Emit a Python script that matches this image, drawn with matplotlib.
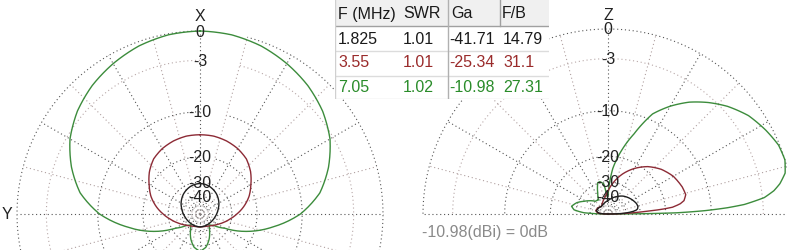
import numpy as np
import matplotlib
matplotlib.use('Agg')
import matplotlib.pyplot as plt
from matplotlib.patches import Rectangle

plt.rcParams['font.family'] = ['Liberation Sans', 'DejaVu Sans']

# --- table values ---
freqs = ['1.825', '3.55', '7.05']
swr = ['1.01', '1.01', '1.02']
ga = ['-41.71', '-25.34', '-10.98']
fb = ['14.79', '31.1', '27.31']
headers = ['F (MHz)', 'SWR', 'Ga', 'F/B']

# --- azimuth pattern (dB rel. max), 0..180 deg, symmetric about X ---
az_deg = [0, 10, 20, 30, 40, 50, 60, 70, 80, 90, 100, 110, 120, 130, 140, 150, 160, 170, 180]
az_black = [-30.73, -31.0, -31.6, -32.5, -33.6, -35.0, -36.5, -38.2, -39.8, -41.2,
            -42.5, -43.5, -44.3, -44.9, -45.3, -45.5, -45.6, -45.6, -45.5]
az_red = [-14.36, -14.4, -14.7, -15.2, -16.0, -17.5, -19.5, -21.5, -24.2, -27.5,
          -31.0, -34.3, -37.5, -40.2, -42.5, -44.0, -45.0, -45.4, -45.5]
az_green = [0.0, -0.1, -0.4, -0.9, -1.5, -2.3, -3.4, -5.0, -7.0, -10.3,
            -15.5, -22.0, -32.0, -40.0, -44.0, -39.0, -33.0, -29.0, -27.3]

# --- elevation pattern (dB rel. max) ---
el_green_deg = [0, 1, 2, 3, 4, 6, 8, 10, 13, 17, 22, 28, 35, 42, 48, 54, 60, 66, 72, 78, 84, 88,
                90, 94, 98, 104, 108, 116, 124, 135, 145, 152, 160, 168, 173, 177, 180]
el_green_db = [-99, -17, -11, -7.5, -5.2, -2.8, -1.7, -1.0, -0.3, 0.0, -0.1, -0.6, -1.3, -2.4, -3.6,
               -5.0, -6.8, -9.0, -13.5, -18.0, -24.0, -33.0,
               -40.0, -40.0, -31.0, -29.4, -29.6, -35.5, -41.0, -40.0, -35.7, -33.0, -29.5, -27.5,
               -29.0, -35.0, -99]
el_red_deg = [0, 2, 3, 4, 5, 6, 8, 10, 14, 20, 30, 40, 50, 60, 70, 80, 90, 100, 115, 130, 150, 165, 175, 180]
el_red_db = [-99, -40, -33, -27, -21, -18, -16, -15, -14.36, -14.6, -15.4, -16.8, -18.8, -21.6,
             -25.2, -30, -36, -41, -46, -50, -47, -46, -50, -99]
el_black_deg = [0, 2, 4, 6, 8, 10, 14, 20, 30, 40, 50, 60, 75, 90, 110, 130, 150, 165, 175, 180]
el_black_db = [-99, -45, -38, -34, -32, -31.2, -30.73, -31, -32.3, -33.8, -35.5, -37.8, -41.5,
               -45, -48, -50, -48, -47, -52, -99]

ring_db = [0, -3, -10, -20, -30, -40, -50]
ring_labels = ['0', '-3', '-10', '-20', '-30', '-40', '']

C_BLACK, C_RED, C_GREEN = '#1e1e1e', '#8c2a35', '#3c8c3c'
T_COLORS = ['#1a1a1a', '#9a2b2b', '#2a8c2a']
DOT = (0, (1, 2.5))
RMAX = 1.03
W, H = 787, 251


def arrl(db):
    # ARRL log scale: radius = 0.89 ** (-dB/2)
    return 0.89 ** (-np.asarray(db, float) / 2)


def mirror(deg, vals):
    d = np.array(deg, float)
    v = np.array(vals, float)
    return np.concatenate([d, 360 - d[::-1][1:]]), np.concatenate([v, v[::-1][1:]])


def polar_axes(cx, cy, R):
    rr = R * RMAX
    ax = fig.add_axes([(cx - rr) / W, (H - cy - rr) / H, 2 * rr / W, 2 * rr / H],
                      projection='polar')
    ax.set_ylim(0, RMAX)
    ax.axis('off')
    return ax


def curve(ax, deg, db, col):
    ln, = ax.plot(np.radians(deg), arrl(db), color=col, lw=1.0)
    # let the polar transform draw arcs between the points
    ln.get_path()._interpolation_steps = 16


def draw_grid(ax, th_from, th_to, label_th):
    th = np.radians(np.linspace(th_from, th_to, 361))
    for db, lab in zip(ring_db, ring_labels):
        col = '#b8a8a8' if db == -3 else '#555555'
        ax.plot(th, np.full_like(th, arrl(db)), ls=DOT, lw=0.8, color=col)
        if lab:
            ax.text(label_th, arrl(db), lab, ha='center', va='center',
                    fontsize=11.5, color='#222222')
    for i, a in enumerate(range(th_from, th_to + 1, 15)):
        col = '#555555' if i % 2 == 0 else '#b0a0a0'
        ax.plot([np.radians(a)] * 2, [0, 1], ls=DOT, lw=0.8, color=col)


fig = plt.figure(figsize=(W / 100, H / 100), dpi=100)

# left: azimuth plot
ax1 = polar_axes(200, 215, 183)
ax1.set_theta_zero_location('N')
ax1.set_theta_direction(1)
draw_grid(ax1, 0, 345, 0)
for vals, col in [(az_green, C_GREEN), (az_red, C_RED), (az_black, C_BLACK)]:
    th, v = mirror(az_deg, vals)
    curve(ax1, th, v, col)
ax1.text(0, 1.085, 'X', ha='center', va='center', fontsize=11.5, color='#222222')
ax1.text(np.pi / 2, 1.055, 'Y', ha='center', va='center', fontsize=11.5, color='#222222')

# right: elevation plot
ax2 = polar_axes(608, 215, 185)
ax2.set_theta_zero_location('E')
ax2.set_theta_direction(1)
draw_grid(ax2, 0, 180, np.pi / 2)
for deg, vals, col in [(el_green_deg, el_green_db, C_GREEN), (el_red_deg, el_red_db, C_RED),
                       (el_black_deg, el_black_db, C_BLACK)]:
    curve(ax2, deg, vals, col)
ax2.text(np.pi / 2, 1.08, 'Z', ha='center', va='center', fontsize=11.5, color='#222222')

fig.text(422 / W, 1 - 233 / H, '-10.98(dBi) = 0dB', ha='left', va='center',
         fontsize=11.5, color='#8a8a8a')

# table
tax = fig.add_axes([335 / W, 1 - 100 / H, (549 - 335) / W, 100 / H], zorder=5)
tax.set_xlim(335, 549)
tax.set_ylim(100, 0)
tax.axis('off')
tax.add_patch(Rectangle((335, 0), 214, 100, facecolor='white', edgecolor='none'))
tax.add_patch(Rectangle((335, 0), 214, 27, facecolor='#f0f0f0', edgecolor='none'))
tax.plot([335, 549], [27, 27], color='#a0a0a0', lw=1)
for y in [52, 77, 100]:
    tax.plot([335, 549], [y, y], color='#dcdcdc', lw=1)
tax.plot([335.5, 335.5], [0, 100], color='#d0d0d0', lw=1)
tax.plot([448, 448], [0, 100], color='#b0b0b0', lw=1)
tax.plot([500, 500], [0, 27], color='#a0a0a0', lw=1)

hx = [338, 403, 451, 502]
for x, s in zip(hx, headers):
    tax.text(x, 14, s, ha='left', va='center', fontsize=11.5, color='#1a1a1a')
vx = [338, 403, 449, 503]
row_y = [39, 63, 88]
for i in range(3):
    for x, s in zip(vx, [freqs[i], swr[i], ga[i], fb[i]]):
        tax.text(x, row_y[i], s, ha='left', va='center', fontsize=11.5, color=T_COLORS[i])

fig.savefig('out.png', dpi=100, facecolor='white')
